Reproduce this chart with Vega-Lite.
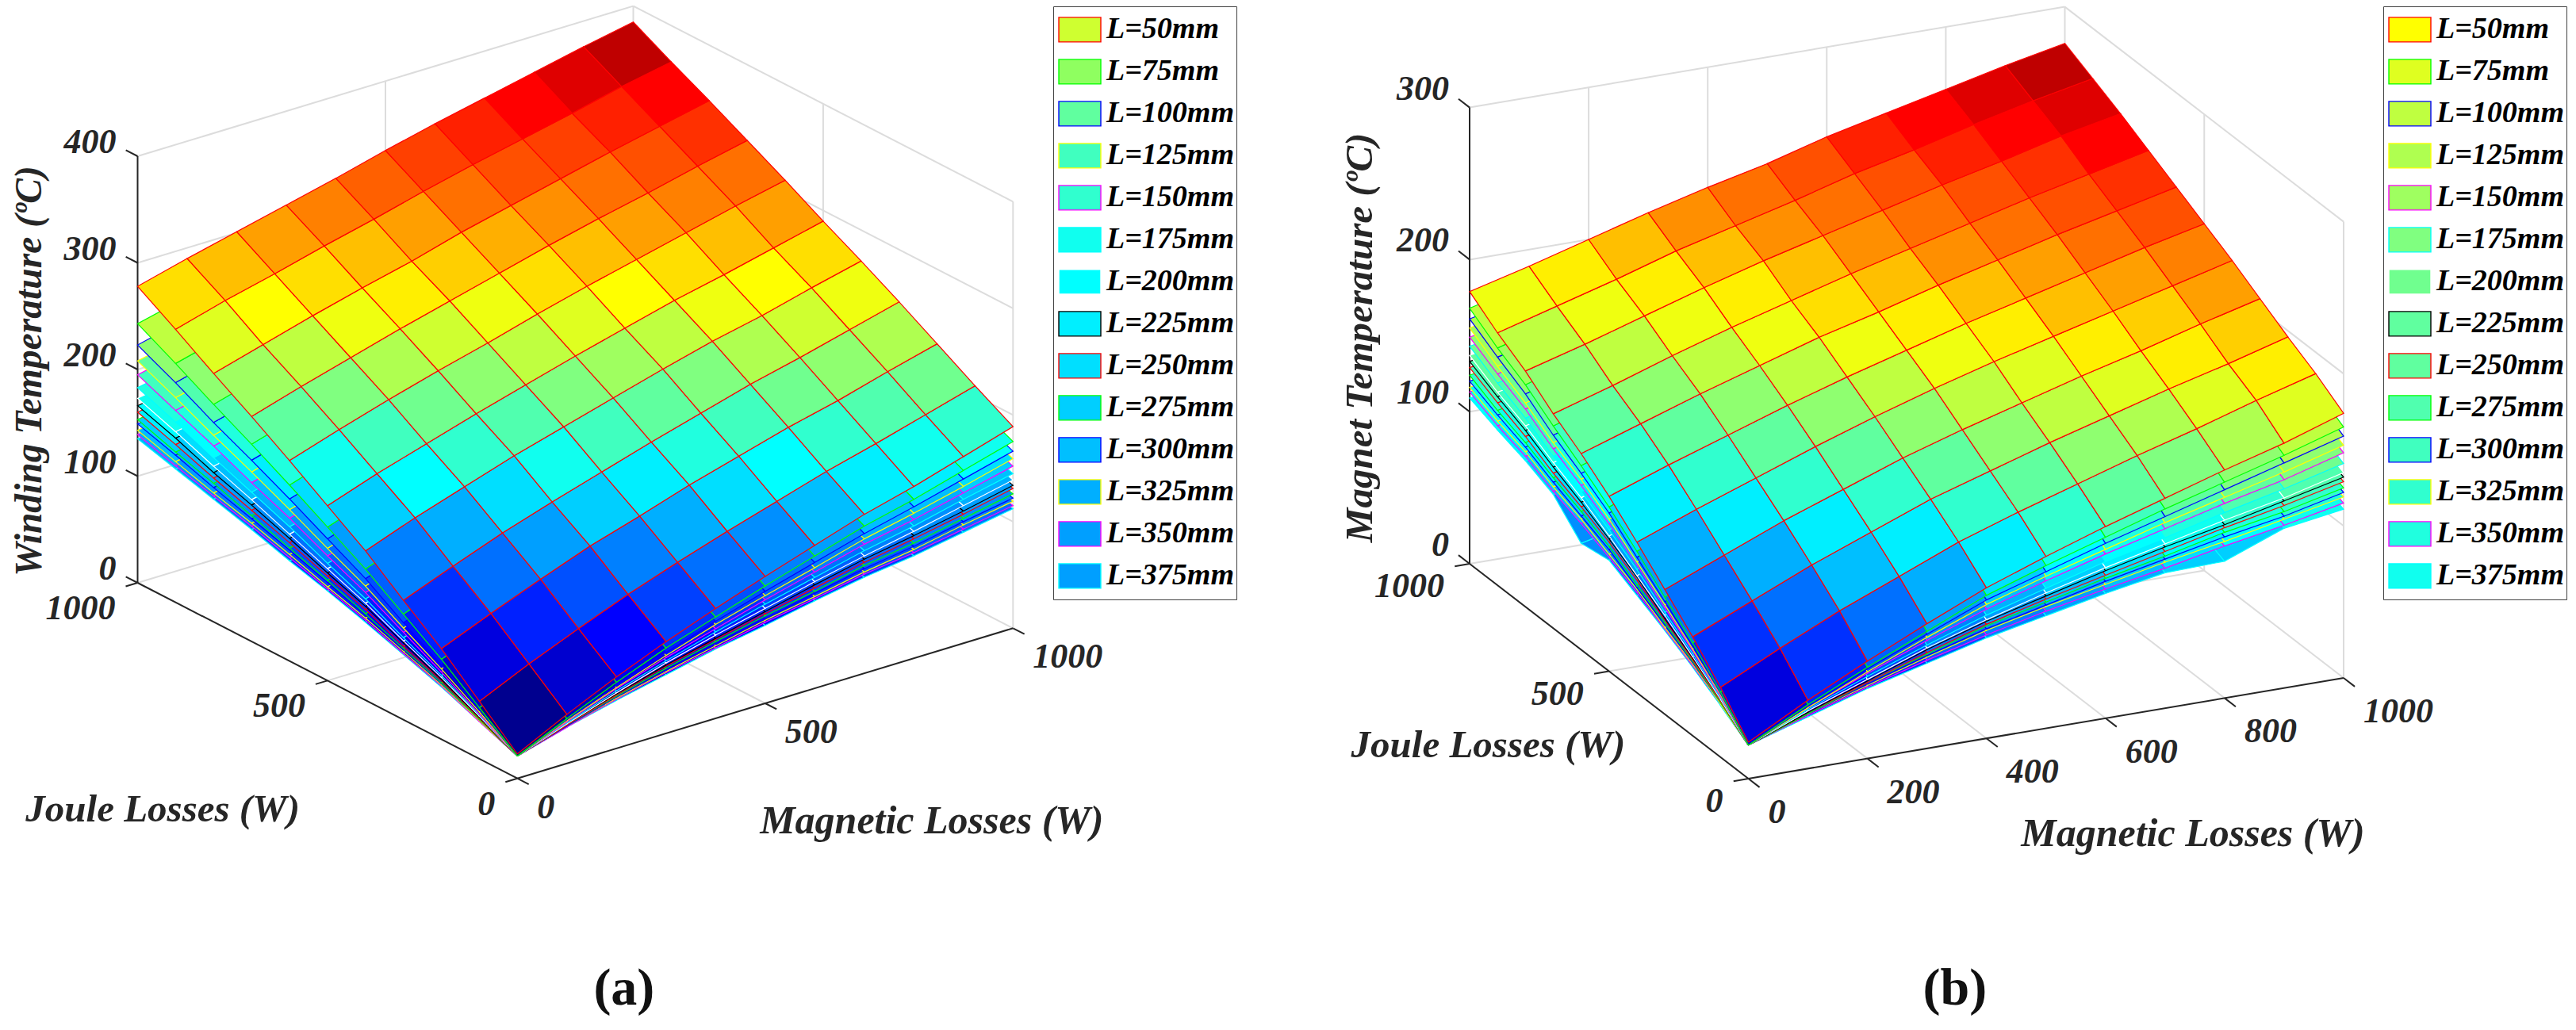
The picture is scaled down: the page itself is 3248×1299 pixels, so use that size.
{"$schema":"https://vega.github.io/schema/vega-lite/v6.json","background":"white","padding":0,"spacing":0,"config":{"view":{"stroke":null}},
"datasets":{
"fa":[
{"k":"g","m":0,"j":1000,"T":0,"m2":1000,"j2":1000,"T2":0},{"k":"g","m":0,"j":1000,"T":100,"m2":1000,"j2":1000,"T2":100},{"k":"g","m":0,"j":1000,"T":200,"m2":1000,"j2":1000,"T2":200},{"k":"g","m":0,"j":1000,"T":300,"m2":1000,"j2":1000,"T2":300},{"k":"g","m":0,"j":1000,"T":400,"m2":1000,"j2":1000,"T2":400},
{"k":"g","m":1000,"j":1000,"T":0,"m2":1000,"j2":0,"T2":0},{"k":"g","m":1000,"j":1000,"T":100,"m2":1000,"j2":0,"T2":100},{"k":"g","m":1000,"j":1000,"T":200,"m2":1000,"j2":0,"T2":200},{"k":"g","m":1000,"j":1000,"T":300,"m2":1000,"j2":0,"T2":300},{"k":"g","m":1000,"j":1000,"T":400,"m2":1000,"j2":0,"T2":400},
{"k":"g","m":1000,"j":1000,"T":0,"m2":1000,"j2":1000,"T2":400},{"k":"g","m":1000,"j":0,"T":0,"m2":1000,"j2":0,"T2":400},{"k":"g","m":500,"j":1000,"T":0,"m2":500,"j2":1000,"T2":400},{"k":"g","m":1000,"j":500,"T":0,"m2":1000,"j2":500,"T2":400},
{"k":"g","m":500,"j":0,"T":0,"m2":500,"j2":1000,"T2":0},{"k":"g","m":0,"j":500,"T":0,"m2":1000,"j2":500,"T2":0},
{"k":"a","m":0,"j":0,"T":0,"m2":0,"j2":1000,"T2":0},{"k":"a","m":0,"j":0,"T":0,"m2":1000,"j2":0,"T2":0},{"k":"a","m":0,"j":1000,"T":0,"m2":0,"j2":1000,"T2":400},
{"k":"a","m":0,"j":1000,"T":0,"m2":0,"j2":1031,"T2":0},{"k":"a","m":0,"j":1000,"T":100,"m2":0,"j2":1031,"T2":100},{"k":"a","m":0,"j":1000,"T":200,"m2":0,"j2":1031,"T2":200},{"k":"a","m":0,"j":1000,"T":300,"m2":0,"j2":1031,"T2":300},{"k":"a","m":0,"j":1000,"T":400,"m2":0,"j2":1031,"T2":400},
{"k":"a","m":0,"j":0,"T":0,"m2":-24,"j2":0,"T2":0},{"k":"a","m":0,"j":500,"T":0,"m2":-24,"j2":500,"T2":0},{"k":"a","m":0,"j":1000,"T":0,"m2":-24,"j2":1000,"T2":0},
{"k":"a","m":0,"j":0,"T":0,"m2":0,"j2":-30,"T2":0},{"k":"a","m":500,"j":0,"T":0,"m2":500,"j2":-30,"T2":0},{"k":"a","m":1000,"j":0,"T":0,"m2":1000,"j2":-30,"T2":0},
{"k":"lT","m":0,"j":1000,"T":0,"t":"0"},{"k":"lT","m":0,"j":1000,"T":100,"t":"100"},{"k":"lT","m":0,"j":1000,"T":200,"t":"200"},{"k":"lT","m":0,"j":1000,"T":300,"t":"300"},{"k":"lT","m":0,"j":1000,"T":400,"t":"400"},
{"k":"lj","m":0,"j":0,"T":0,"t":"0"},{"k":"lj","m":0,"j":500,"T":0,"t":"500"},{"k":"lj","m":0,"j":1000,"T":0,"t":"1000"},
{"k":"lm","m":0,"j":0,"T":0,"t":"0"},{"k":"lm","m":500,"j":0,"T":0,"t":"500"},{"k":"lm","m":1000,"j":0,"T":0,"t":"1000"},
{"k":"t","m":0,"j":1283,"T":146.6,"t":"Winding Temperature (ºC)","a":270,"fs":47.5},{"k":"t","m":-527,"j":246,"T":0,"t":"Joule Losses (W)","a":0,"fs":49},{"k":"t","m":420,"j":-543,"T":0,"t":"Magnetic Losses (W)","a":0,"fs":50},
{"k":"c","m":-383,"j":-781,"T":0,"t":"(a)"}],
"fb":[
{"k":"g","m":0,"j":1000,"T":0,"m2":1000,"j2":1000,"T2":0},{"k":"g","m":0,"j":1000,"T":100,"m2":1000,"j2":1000,"T2":100},{"k":"g","m":0,"j":1000,"T":200,"m2":1000,"j2":1000,"T2":200},{"k":"g","m":0,"j":1000,"T":300,"m2":1000,"j2":1000,"T2":300},
{"k":"g","m":1000,"j":1000,"T":0,"m2":1000,"j2":0,"T2":0},{"k":"g","m":1000,"j":1000,"T":100,"m2":1000,"j2":0,"T2":100},{"k":"g","m":1000,"j":1000,"T":200,"m2":1000,"j2":0,"T2":200},{"k":"g","m":1000,"j":1000,"T":300,"m2":1000,"j2":0,"T2":300},
{"k":"g","m":1000,"j":1000,"T":0,"m2":1000,"j2":1000,"T2":300},{"k":"g","m":1000,"j":0,"T":0,"m2":1000,"j2":0,"T2":300},{"k":"g","m":1000,"j":500,"T":0,"m2":1000,"j2":500,"T2":300},
{"k":"g","m":200,"j":1000,"T":0,"m2":200,"j2":1000,"T2":300},{"k":"g","m":400,"j":1000,"T":0,"m2":400,"j2":1000,"T2":300},{"k":"g","m":600,"j":1000,"T":0,"m2":600,"j2":1000,"T2":300},{"k":"g","m":800,"j":1000,"T":0,"m2":800,"j2":1000,"T2":300},
{"k":"g","m":200,"j":0,"T":0,"m2":200,"j2":1000,"T2":0},{"k":"g","m":400,"j":0,"T":0,"m2":400,"j2":1000,"T2":0},{"k":"g","m":600,"j":0,"T":0,"m2":600,"j2":1000,"T2":0},{"k":"g","m":800,"j":0,"T":0,"m2":800,"j2":1000,"T2":0},{"k":"g","m":0,"j":500,"T":0,"m2":1000,"j2":500,"T2":0},
{"k":"a","m":0,"j":0,"T":0,"m2":0,"j2":1000,"T2":0},{"k":"a","m":0,"j":0,"T":0,"m2":1000,"j2":0,"T2":0},{"k":"a","m":0,"j":1000,"T":0,"m2":0,"j2":1000,"T2":300},
{"k":"a","m":0,"j":1000,"T":0,"m2":0,"j2":1040,"T2":0},{"k":"a","m":0,"j":1000,"T":100,"m2":0,"j2":1040,"T2":100},{"k":"a","m":0,"j":1000,"T":200,"m2":0,"j2":1040,"T2":200},{"k":"a","m":0,"j":1000,"T":300,"m2":0,"j2":1040,"T2":300},
{"k":"a","m":0,"j":0,"T":0,"m2":-25,"j2":0,"T2":0},{"k":"a","m":0,"j":500,"T":0,"m2":-25,"j2":500,"T2":0},{"k":"a","m":0,"j":1000,"T":0,"m2":-25,"j2":1000,"T2":0},
{"k":"a","m":0,"j":0,"T":0,"m2":0,"j2":-40,"T2":0},{"k":"a","m":200,"j":0,"T":0,"m2":200,"j2":-40,"T2":0},{"k":"a","m":400,"j":0,"T":0,"m2":400,"j2":-40,"T2":0},{"k":"a","m":600,"j":0,"T":0,"m2":600,"j2":-40,"T2":0},{"k":"a","m":800,"j":0,"T":0,"m2":800,"j2":-40,"T2":0},{"k":"a","m":1000,"j":0,"T":0,"m2":1000,"j2":-40,"T2":0},
{"k":"lT","m":0,"j":1000,"T":0,"t":"0"},{"k":"lT","m":0,"j":1000,"T":100,"t":"100"},{"k":"lT","m":0,"j":1000,"T":200,"t":"200"},{"k":"lT","m":0,"j":1000,"T":300,"t":"300"},
{"k":"lj","m":0,"j":0,"T":0,"t":"0"},{"k":"lj","m":0,"j":500,"T":0,"t":"500"},{"k":"lj","m":0,"j":1000,"T":0,"t":"1000"},
{"k":"lm","m":0,"j":0,"T":0,"t":"0"},{"k":"lm","m":200,"j":0,"T":0,"t":"200"},{"k":"lm","m":400,"j":0,"T":0,"t":"400"},{"k":"lm","m":600,"j":0,"T":0,"t":"600"},{"k":"lm","m":800,"j":0,"T":0,"t":"800"},{"k":"lm","m":1000,"j":0,"T":0,"t":"1000"},
{"k":"t","m":0,"j":1393,"T":93.1,"t":"Magnet Temperature (ºC)","a":270,"fs":49},{"k":"t","m":-299,"j":295,"T":0,"t":"Joule Losses (W)","a":0,"fs":49},{"k":"t","m":513,"j":-499,"T":0,"t":"Magnetic Losses (W)","a":0,"fs":50},
{"k":"c","m":-91,"j":-935,"T":0,"t":"(b)"}],
"sa":[
{"L":"L=375mm","d":"m","w0":0,"w1":100,"T0":[21,34,45,55,65,73,82,90,96,104,112],"T1":[35,47,58,67,77,85,93,100,106,113,121]},
{"L":"L=375mm","d":"j","w0":0,"w1":100,"T0":[21,35,49,61,73,84,94,105,115,125,135],"T1":[34,47,60,72,83,94,103,113,123,132,142]},
{"L":"L=350mm","d":"m","w0":0,"w1":100,"T0":[21,34,46,57,66,76,84,93,99,107,115],"T1":[35,48,59,70,78,87,95,104,109,117,124]},
{"L":"L=350mm","d":"j","w0":0,"w1":100,"T0":[21,35,50,62,75,86,97,108,118,128,139],"T1":[34,48,62,73,86,96,106,117,126,135,146]},
{"L":"L=325mm","d":"m","w0":0,"w1":100,"T0":[21,35,47,58,68,78,86,95,102,111,119],"T1":[36,49,61,71,81,90,98,106,113,121,128]},
{"L":"L=325mm","d":"j","w0":0,"w1":100,"T0":[21,36,51,64,77,88,100,111,121,132,143],"T1":[35,49,63,76,88,98,110,120,129,140,150]},
{"L":"L=300mm","d":"m","w0":0,"w1":100,"T0":[21,35,48,59,70,79,89,98,105,114,122],"T1":[37,50,62,73,83,92,101,110,116,124,132]},
{"L":"L=300mm","d":"j","w0":0,"w1":100,"T0":[21,37,52,66,80,92,104,115,126,138,149],"T1":[35,50,65,78,91,103,114,124,135,146,156]},
{"L":"L=275mm","d":"m","w0":0,"w1":100,"T0":[21,36,49,61,72,82,91,101,108,117,126],"T1":[37,51,64,75,86,95,104,113,120,128,136]},
{"L":"L=275mm","d":"j","w0":0,"w1":100,"T0":[21,37,53,67,81,94,106,118,130,141,153],"T1":[36,51,66,80,93,105,116,128,139,149,161]},
{"L":"L=250mm","d":"m","w0":0,"w1":100,"T0":[21,36,50,63,74,84,94,104,112,121,131],"T1":[38,52,66,78,88,98,107,117,124,133,142]},
{"L":"L=250mm","d":"j","w0":0,"w1":100,"T0":[21,38,55,69,85,98,111,123,135,148,160],"T1":[36,53,69,82,97,110,122,133,144,157,168]},
{"L":"L=225mm","d":"m","w0":0,"w1":100,"T0":[21,37,51,64,75,86,97,107,115,124,134],"T1":[39,54,67,80,90,101,111,120,128,136,145]},
{"L":"L=225mm","d":"j","w0":0,"w1":100,"T0":[21,39,56,72,88,101,115,128,140,154,166],"T1":[37,54,70,85,101,113,126,138,150,163,174]},
{"L":"L=200mm","d":"m","w0":0,"w1":100,"T0":[21,37,52,66,78,89,100,110,119,129,139],"T1":[40,55,69,82,94,104,115,124,132,142,151]},
{"L":"L=200mm","d":"j","w0":0,"w1":100,"T0":[21,40,58,74,91,105,119,133,146,160,173],"T1":[37,55,73,88,104,117,131,144,156,169,181]},
{"L":"L=175mm","d":"m","w0":0,"w1":100,"T0":[21,38,54,68,81,93,104,115,124,135,145],"T1":[41,57,72,86,98,109,120,130,138,148,158]},
{"L":"L=175mm","d":"j","w0":0,"w1":100,"T0":[21,41,60,77,95,110,126,140,154,169,183],"T1":[38,57,76,92,109,123,138,152,165,179,192]},
{"L":"L=150mm","d":"m","w0":0,"w1":100,"T0":[21,39,56,71,84,97,109,121,130,141,152],"T1":[42,60,76,90,102,114,126,137,145,156,166]},
{"L":"L=150mm","d":"j","w0":0,"w1":100,"T0":[21,42,63,82,101,117,134,149,165,180,195],"T1":[39,59,80,98,116,131,147,161,176,190,205]},
{"L":"L=125mm","d":"m","w0":0,"w1":100,"T0":[21,40,57,73,88,101,113,126,136,147,159],"T1":[44,62,78,93,107,120,131,143,152,163,174]},
{"L":"L=125mm","d":"j","w0":0,"w1":100,"T0":[21,44,66,86,107,124,142,159,175,192,208],"T1":[40,62,83,102,123,139,156,172,187,203,218]},
{"L":"L=100mm","d":"m","w0":0,"w1":100,"T0":[21,41,59,76,91,105,118,131,142,154,166],"T1":[46,65,82,98,112,125,137,150,160,171,182]},
{"L":"L=100mm","d":"j","w0":0,"w1":100,"T0":[21,46,70,91,114,133,152,170,187,206,223],"T1":[41,65,88,108,130,148,166,183,199,218,234]},
{"L":"L=75mm","d":"m","w0":0,"w1":100,"T0":[21,42,62,80,95,110,124,138,149,162,175],"T1":[48,68,87,104,118,132,145,158,168,180,192]},
{"L":"L=75mm","d":"j","w0":0,"w1":100,"T0":[21,48,75,99,123,144,165,185,204,224,243],"T1":[42,68,94,117,140,160,180,199,217,236,254]},
{"L":"L=50mm","d":"m","w0":0,"w1":100,"T0":[23,46,67,86,103,119,134,149,161,175,189],"T1":[54,75,94,112,128,143,157,171,183,196,209]},
{"L":"L=50mm","d":"m","w0":100,"w1":200,"T0":[54,75,94,112,128,143,157,171,183,196,209],"T1":[85,104,122,139,153,168,181,194,205,218,230]},
{"L":"L=50mm","d":"m","w0":200,"w1":300,"T0":[85,104,122,139,153,168,181,194,205,218,230],"T1":[112,130,147,162,176,190,203,216,227,239,251]},
{"L":"L=50mm","d":"m","w0":300,"w1":400,"T0":[112,130,147,162,176,190,203,216,227,239,251],"T1":[140,157,172,187,200,213,226,238,248,260,271]},
{"L":"L=50mm","d":"m","w0":400,"w1":500,"T0":[140,157,172,187,200,213,226,238,248,260,271],"T1":[164,180,194,208,221,234,246,258,268,279,290]},
{"L":"L=50mm","d":"m","w0":500,"w1":600,"T0":[164,180,194,208,221,234,246,258,268,279,290],"T1":[188,203,217,230,242,255,267,278,289,300,310]},
{"L":"L=50mm","d":"m","w0":600,"w1":700,"T0":[188,203,217,230,242,255,267,278,289,300,310],"T1":[211,225,238,251,263,275,287,298,308,319,329]},
{"L":"L=50mm","d":"m","w0":700,"w1":800,"T0":[211,225,238,251,263,275,287,298,308,319,329],"T1":[233,246,259,271,282,295,306,317,328,338,348]},
{"L":"L=50mm","d":"m","w0":800,"w1":900,"T0":[233,246,259,271,282,295,306,317,328,338,348],"T1":[256,269,280,292,303,315,326,336,346,357,366]},
{"L":"L=50mm","d":"m","w0":900,"w1":1000,"T0":[256,269,280,292,303,315,326,336,346,357,366],"T1":[278,290,301,312,323,335,346,356,366,376,385]}],
"sb":[
{"L":"L=375mm","d":"m","w0":0,"w1":100,"T0":[22,34,46,56,66,74,82,89,90,105,111],"T1":[34,46,57,67,76,84,91,98,98,112,118]},
{"L":"L=375mm","d":"j","w0":0,"w1":100,"T0":[22,34,45,55,64,73,70,88,96,102,109],"T1":[34,46,56,65,74,82,79,96,103,109,115]},
{"L":"L=350mm","d":"m","w0":0,"w1":100,"T0":[22,35,47,58,68,77,85,92,100,107,115],"T1":[35,47,59,69,79,87,94,101,108,115,122]},
{"L":"L=350mm","d":"j","w0":0,"w1":100,"T0":[22,35,46,56,66,75,83,90,99,105,113],"T1":[35,47,58,67,76,85,92,98,107,112,119]},
{"L":"L=325mm","d":"m","w0":0,"w1":100,"T0":[22,36,48,60,71,80,88,96,103,111,119],"T1":[35,49,60,72,82,90,98,105,112,119,126]},
{"L":"L=325mm","d":"j","w0":0,"w1":100,"T0":[22,35,47,57,68,77,86,93,102,108,116],"T1":[36,48,59,69,79,87,95,102,110,115,123]},
{"L":"L=300mm","d":"m","w0":0,"w1":100,"T0":[22,36,49,61,72,81,90,98,106,113,122],"T1":[36,49,62,73,83,92,100,108,115,121,130]},
{"L":"L=300mm","d":"j","w0":0,"w1":100,"T0":[22,36,48,59,69,80,88,96,105,112,120],"T1":[36,49,60,71,80,90,98,105,113,119,127]},
{"L":"L=275mm","d":"m","w0":0,"w1":100,"T0":[22,36,50,62,74,83,92,100,109,116,125],"T1":[36,50,63,74,86,94,103,110,118,125,133]},
{"L":"L=275mm","d":"j","w0":0,"w1":100,"T0":[22,36,49,60,71,82,91,99,108,115,124],"T1":[36,50,62,72,82,93,101,108,116,123,131]},
{"L":"L=250mm","d":"m","w0":0,"w1":100,"T0":[22,37,50,63,75,85,94,103,112,120,129],"T1":[37,51,64,76,87,97,105,113,122,129,137]},
{"L":"L=250mm","d":"j","w0":0,"w1":100,"T0":[22,37,50,62,74,85,94,102,112,120,129],"T1":[37,51,63,75,86,96,104,112,121,128,136]},
{"L":"L=225mm","d":"m","w0":0,"w1":100,"T0":[22,37,51,65,77,87,97,106,114,123,132],"T1":[38,52,65,79,90,99,109,117,124,132,141]},
{"L":"L=225mm","d":"j","w0":0,"w1":100,"T0":[22,38,51,63,76,87,97,106,116,124,133],"T1":[37,53,65,76,88,98,108,116,125,132,140]},
{"L":"L=200mm","d":"m","w0":0,"w1":100,"T0":[22,38,52,66,78,89,99,108,117,125,135],"T1":[38,54,67,80,91,102,111,119,127,135,144]},
{"L":"L=200mm","d":"j","w0":0,"w1":100,"T0":[22,38,52,65,77,89,100,109,119,127,137],"T1":[38,53,66,78,90,101,111,119,128,135,145]},
{"L":"L=175mm","d":"m","w0":0,"w1":100,"T0":[22,39,54,68,81,92,103,112,122,131,141],"T1":[39,55,70,83,95,105,116,124,133,141,150]},
{"L":"L=175mm","d":"j","w0":0,"w1":100,"T0":[22,39,54,67,81,93,104,113,124,133,143],"T1":[39,55,69,81,94,105,115,124,134,142,151]},
{"L":"L=150mm","d":"m","w0":0,"w1":100,"T0":[22,40,56,71,85,97,108,118,128,137,148],"T1":[40,57,73,87,100,111,121,130,140,148,158]},
{"L":"L=150mm","d":"j","w0":0,"w1":100,"T0":[22,40,56,70,84,97,108,118,130,139,149],"T1":[40,57,72,85,98,110,120,129,140,148,157]},
{"L":"L=125mm","d":"m","w0":0,"w1":100,"T0":[22,40,57,73,88,100,111,122,132,142,153],"T1":[41,58,74,89,104,115,125,135,144,153,163]},
{"L":"L=125mm","d":"j","w0":0,"w1":100,"T0":[22,41,57,72,86,100,112,122,134,144,155],"T1":[40,58,73,87,100,113,125,134,145,154,164]},
{"L":"L=100mm","d":"m","w0":0,"w1":100,"T0":[22,41,59,75,91,103,115,126,137,148,159],"T1":[42,60,77,92,107,118,130,140,150,160,170]},
{"L":"L=100mm","d":"j","w0":0,"w1":100,"T0":[22,42,59,74,89,104,116,127,140,150,161],"T1":[41,60,76,90,104,118,129,139,151,160,170]},
{"L":"L=75mm","d":"m","w0":0,"w1":100,"T0":[22,42,60,77,94,107,119,131,142,153,165],"T1":[43,62,79,95,111,123,134,145,155,165,176]},
{"L":"L=75mm","d":"j","w0":0,"w1":100,"T0":[22,43,61,77,93,108,121,133,146,156,168],"T1":[42,62,79,94,109,123,135,146,158,167,178]},
{"L":"L=50mm","d":"m","w0":0,"w1":100,"T0":[24,45,64,82,99,113,126,138,150,161,174],"T1":[46,65,83,99,115,128,140,152,163,175,186]},
{"L":"L=50mm","d":"m","w0":100,"w1":200,"T0":[46,65,83,99,115,128,140,152,163,175,186],"T1":[65,82,99,114,129,141,153,164,175,185,196]},
{"L":"L=50mm","d":"m","w0":200,"w1":300,"T0":[65,82,99,114,129,141,153,164,175,185,196],"T1":[82,98,114,128,142,154,165,176,186,197,207]},
{"L":"L=50mm","d":"m","w0":300,"w1":400,"T0":[82,98,114,128,142,154,165,176,186,197,207],"T1":[99,114,128,142,155,167,178,188,198,208,218]},
{"L":"L=50mm","d":"m","w0":400,"w1":500,"T0":[99,114,128,142,155,167,178,188,198,208,218],"T1":[115,129,142,155,167,178,189,199,209,219,228]},
{"L":"L=50mm","d":"m","w0":500,"w1":600,"T0":[115,129,142,155,167,178,189,199,209,219,228],"T1":[129,142,155,167,179,189,200,210,220,229,238]},
{"L":"L=50mm","d":"m","w0":600,"w1":700,"T0":[129,142,155,167,179,189,200,210,220,229,238],"T1":[141,153,166,178,189,200,210,220,230,239,248]},
{"L":"L=50mm","d":"m","w0":700,"w1":800,"T0":[141,153,166,178,189,200,210,220,230,239,248],"T1":[155,166,178,190,201,211,221,231,240,250,258]},
{"L":"L=50mm","d":"m","w0":800,"w1":900,"T0":[155,166,178,190,201,211,221,231,240,250,258],"T1":[166,177,188,200,210,220,231,240,250,259,267]},
{"L":"L=50mm","d":"m","w0":900,"w1":1000,"T0":[166,177,188,200,210,220,231,240,250,259,267],"T1":[179,189,200,211,221,230,241,250,259,268,276]}]
},
"hconcat":[
{"width":1624,"height":1299,"data":{"name":"fa"},
"transform":[{"calculate":"652.3+0.625*datum.m-0.4788*datum.j","as":"sx"},{"calculate":"981.7-0.1894*datum.m-0.2467*datum.j-1.345*datum.T","as":"sy"},{"calculate":"652.3+0.625*datum.m2-0.4788*datum.j2","as":"sx2"},{"calculate":"981.7-0.1894*datum.m2-0.2467*datum.j2-1.345*datum.T2","as":"sy2"}],
"resolve":{"scale":{"fill":"independent","stroke":"independent"}},
"layer":[
{"transform":[{"filter":"datum.k=='g'"}],"mark":{"type":"rule","stroke":"#dcdcdc","strokeWidth":2},"encoding":{"x":{"field":"sx","type":"quantitative","scale":{"domain":[0,1624],"nice":false,"zero":false},"axis":null},"y":{"field":"sy","type":"quantitative","scale":{"domain":[1299,0],"nice":false,"zero":false},"axis":null},"x2":{"field":"sx2"},"y2":{"field":"sy2"}}},
{"transform":[{"filter":"datum.k=='a'"}],"mark":{"type":"rule","stroke":"#262626","strokeWidth":2},"encoding":{"x":{"field":"sx","type":"quantitative"},"y":{"field":"sy","type":"quantitative"},"x2":{"field":"sx2"},"y2":{"field":"sy2"}}},
{"transform":[{"filter":"datum.k=='lT'"}],"mark":{"type":"text","align":"right","baseline":"middle","dx":-27,"dy":-17,"font":"Liberation Serif","fontStyle":"italic","fontWeight":"bold","fontSize":44,"fill":"#262626"},"encoding":{"x":{"field":"sx","type":"quantitative"},"y":{"field":"sy","type":"quantitative"},"text":{"field":"t"}}},
{"transform":[{"filter":"datum.k=='lj'"}],"mark":{"type":"text","align":"right","baseline":"middle","dx":-28,"dy":33,"font":"Liberation Serif","fontStyle":"italic","fontWeight":"bold","fontSize":44,"fill":"#262626"},"encoding":{"x":{"field":"sx","type":"quantitative"},"y":{"field":"sy","type":"quantitative"},"text":{"field":"t"}}},
{"transform":[{"filter":"datum.k=='lm'"}],"mark":{"type":"text","align":"left","baseline":"middle","dx":25,"dy":37,"font":"Liberation Serif","fontStyle":"italic","fontWeight":"bold","fontSize":44,"fill":"#262626"},"encoding":{"x":{"field":"sx","type":"quantitative"},"y":{"field":"sy","type":"quantitative"},"text":{"field":"t"}}},
{"transform":[{"filter":"datum.k=='t'"}],"mark":{"type":"text","align":"center","baseline":"middle","font":"Liberation Serif","fontStyle":"italic","fontWeight":"bold","fill":"#262626"},"encoding":{"x":{"field":"sx","type":"quantitative"},"y":{"field":"sy","type":"quantitative"},"text":{"field":"t"},"angle":{"field":"a","type":"quantitative","scale":null},"size":{"field":"fs","type":"quantitative","scale":null}}},
{"transform":[{"filter":"datum.k=='c'"}],"mark":{"type":"text","align":"center","baseline":"middle","font":"Liberation Serif","fontWeight":"bold","fontSize":66,"fill":"#111111"},"encoding":{"x":{"field":"sx","type":"quantitative"},"y":{"field":"sy","type":"quantitative"},"text":{"field":"t"}}},
{"data":{"values":[{"n":"L=50mm"},{"n":"L=75mm"},{"n":"L=100mm"},{"n":"L=125mm"},{"n":"L=150mm"},{"n":"L=175mm"},{"n":"L=200mm"},{"n":"L=225mm"},{"n":"L=250mm"},{"n":"L=275mm"},{"n":"L=300mm"},{"n":"L=325mm"},{"n":"L=350mm"},{"n":"L=375mm"}]},"mark":{"type":"point","filled":true,"size":1,"opacity":0},
"encoding":{"fill":{"field":"n","type":"nominal","scale":{"domain":["L=50mm","L=75mm","L=100mm","L=125mm","L=150mm","L=175mm","L=200mm","L=225mm","L=250mm","L=275mm","L=300mm","L=325mm","L=350mm","L=375mm"],"range":["#CFFF30","#8FFF60","#60FF9F","#40FFBF","#30FFCF","#10FFEF","#00FFFF","#00EFFF","#00DFFF","#00CFFF","#00BFFF","#00AFFF","#009FFF","#009FFF"]},
"legend":{"title":null,"orient":"none","legendX":1328,"legendY":8,"padding":3,"fillColor":"white","strokeColor":"#404040","labelFont":"Liberation Serif","labelFontStyle":"italic","labelFontWeight":"bold","labelFontSize":38,"labelColor":"#000000","labelOffset":3,"labelLimit":400,"symbolType":"M-0.898,-0.525H0.898V0.525H-0.898Z","symbolSize":3481,"symbolStrokeWidth":1.4,"symbolOpacity":1,"clipHeight":52.8,"rowPadding":0}},
"stroke":{"field":"n","type":"nominal","scale":{"domain":["L=50mm","L=75mm","L=100mm","L=125mm","L=150mm","L=175mm","L=200mm","L=225mm","L=250mm","L=275mm","L=300mm","L=325mm","L=350mm","L=375mm"],"range":["#ff0000","#00ff00","#0000ff","#ffff00","#ff00ff","#00ffff","#ffffff","#000000","#ff0000","#00ff00","#0000ff","#ffff00","#ff00ff","#00ffff"]},
"legend":{"title":null,"orient":"none","legendX":1328,"legendY":8,"padding":3,"fillColor":"white","strokeColor":"#404040","labelFont":"Liberation Serif","labelFontStyle":"italic","labelFontWeight":"bold","labelFontSize":38,"labelColor":"#000000","labelOffset":3,"labelLimit":400,"symbolType":"M-0.898,-0.525H0.898V0.525H-0.898Z","symbolSize":3481,"symbolStrokeWidth":1.4,"symbolOpacity":1,"clipHeight":52.8,"rowPadding":0}}}},
{"data":{"name":"sa"},"transform":[{"calculate":"[0,1,2,3,4,5,6,7,8,9]","as":"k"},{"flatten":["k"]},{"calculate":"[0,1,2,3,4]","as":"v"},{"flatten":["v"]},{"calculate":"datum.k+((datum.v==1||datum.v==2)?1:0)","as":"u"},{"calculate":"(datum.v==2||datum.v==3)?1:0","as":"w"},{"calculate":"(datum.w?datum.T1:datum.T0)[datum.u]","as":"Tv"},{"calculate":"datum.T0[datum.k]","as":"Tc"},{"calculate":"datum.d=='m'?datum.u*100:(datum.w?datum.w1:datum.w0)","as":"m"},{"calculate":"datum.d=='m'?(datum.w?datum.w1:datum.w0):datum.u*100","as":"j"},{"calculate":"652.3+0.625*datum.m-0.4788*datum.j","as":"sx"},{"calculate":"981.7-0.1894*datum.m-0.2467*datum.j-1.345*datum.Tv","as":"sy"},{"calculate":"datum.L+datum.d+datum.w0+'_'+datum.k","as":"id"}],
"mark":{"type":"line","strokeWidth":1.2},
"encoding":{"x":{"field":"sx","type":"quantitative"},"y":{"field":"sy","type":"quantitative"},"order":{"field":"v","type":"quantitative"},"detail":{"field":"id"},
"fill":{"field":"Tc","type":"quantitative","legend":null,"scale":{"type":"quantize","domain":[23,385],"range":["#00008F","#00009F","#0000AF","#0000BF","#0000CF","#0000DF","#0000EF","#0000FF","#0010FF","#0020FF","#0030FF","#0040FF","#0050FF","#0060FF","#0070FF","#0080FF","#008FFF","#009FFF","#00AFFF","#00BFFF","#00CFFF","#00DFFF","#00EFFF","#00FFFF","#10FFEF","#20FFDF","#30FFCF","#40FFBF","#50FFAF","#60FF9F","#70FF8F","#80FF80","#8FFF70","#9FFF60","#AFFF50","#BFFF40","#CFFF30","#DFFF20","#EFFF10","#FFFF00","#FFEF00","#FFDF00","#FFCF00","#FFBF00","#FFAF00","#FF9F00","#FF8F00","#FF8000","#FF7000","#FF6000","#FF5000","#FF4000","#FF3000","#FF2000","#FF1000","#FF0000","#EF0000","#DF0000","#CF0000","#BF0000","#AF0000","#9F0000","#8F0000","#800000"]}},
"stroke":{"field":"L","type":"nominal","legend":null,"scale":{"domain":["L=50mm","L=75mm","L=100mm","L=125mm","L=150mm","L=175mm","L=200mm","L=225mm","L=250mm","L=275mm","L=300mm","L=325mm","L=350mm","L=375mm"],"range":["#ff0000","#00ff00","#0000ff","#ffff00","#ff00ff","#00ffff","#ffffff","#000000","#ff0000","#00ff00","#0000ff","#ffff00","#ff00ff","#00ffff"]}}}}
]},
{"width":1624,"height":1299,"data":{"name":"fb"},
"transform":[{"calculate":"2204.5+0.7505*datum.m-0.3515*datum.j","as":"sx"},{"calculate":"982-0.127*datum.m-0.271*datum.j-1.918*datum.T","as":"sy"},{"calculate":"2204.5+0.7505*datum.m2-0.3515*datum.j2","as":"sx2"},{"calculate":"982-0.127*datum.m2-0.271*datum.j2-1.918*datum.T2","as":"sy2"}],
"resolve":{"scale":{"fill":"independent","stroke":"independent"}},
"layer":[
{"transform":[{"filter":"datum.k=='g'"}],"mark":{"type":"rule","stroke":"#dcdcdc","strokeWidth":2},"encoding":{"x":{"field":"sx","type":"quantitative","scale":{"domain":[1624,3248],"nice":false,"zero":false},"axis":null},"y":{"field":"sy","type":"quantitative","scale":{"domain":[1299,0],"nice":false,"zero":false},"axis":null},"x2":{"field":"sx2"},"y2":{"field":"sy2"}}},
{"transform":[{"filter":"datum.k=='a'"}],"mark":{"type":"rule","stroke":"#262626","strokeWidth":2},"encoding":{"x":{"field":"sx","type":"quantitative"},"y":{"field":"sy","type":"quantitative"},"x2":{"field":"sx2"},"y2":{"field":"sy2"}}},
{"transform":[{"filter":"datum.k=='lT'"}],"mark":{"type":"text","align":"right","baseline":"middle","dx":-26,"dy":-23,"font":"Liberation Serif","fontStyle":"italic","fontWeight":"bold","fontSize":44,"fill":"#262626"},"encoding":{"x":{"field":"sx","type":"quantitative"},"y":{"field":"sy","type":"quantitative"},"text":{"field":"t"}}},
{"transform":[{"filter":"datum.k=='lj'"}],"mark":{"type":"text","align":"right","baseline":"middle","dx":-32,"dy":29,"font":"Liberation Serif","fontStyle":"italic","fontWeight":"bold","fontSize":44,"fill":"#262626"},"encoding":{"x":{"field":"sx","type":"quantitative"},"y":{"field":"sy","type":"quantitative"},"text":{"field":"t"}}},
{"transform":[{"filter":"datum.k=='lm'"}],"mark":{"type":"text","align":"left","baseline":"middle","dx":25,"dy":43,"font":"Liberation Serif","fontStyle":"italic","fontWeight":"bold","fontSize":44,"fill":"#262626"},"encoding":{"x":{"field":"sx","type":"quantitative"},"y":{"field":"sy","type":"quantitative"},"text":{"field":"t"}}},
{"transform":[{"filter":"datum.k=='t'"}],"mark":{"type":"text","align":"center","baseline":"middle","font":"Liberation Serif","fontStyle":"italic","fontWeight":"bold","fill":"#262626"},"encoding":{"x":{"field":"sx","type":"quantitative"},"y":{"field":"sy","type":"quantitative"},"text":{"field":"t"},"angle":{"field":"a","type":"quantitative","scale":null},"size":{"field":"fs","type":"quantitative","scale":null}}},
{"transform":[{"filter":"datum.k=='c'"}],"mark":{"type":"text","align":"center","baseline":"middle","font":"Liberation Serif","fontWeight":"bold","fontSize":66,"fill":"#111111"},"encoding":{"x":{"field":"sx","type":"quantitative"},"y":{"field":"sy","type":"quantitative"},"text":{"field":"t"}}},
{"data":{"values":[{"n":"L=50mm"},{"n":"L=75mm"},{"n":"L=100mm"},{"n":"L=125mm"},{"n":"L=150mm"},{"n":"L=175mm"},{"n":"L=200mm"},{"n":"L=225mm"},{"n":"L=250mm"},{"n":"L=275mm"},{"n":"L=300mm"},{"n":"L=325mm"},{"n":"L=350mm"},{"n":"L=375mm"}]},"mark":{"type":"point","filled":true,"size":1,"opacity":0},
"encoding":{"fill":{"field":"n","type":"nominal","scale":{"domain":["L=50mm","L=75mm","L=100mm","L=125mm","L=150mm","L=175mm","L=200mm","L=225mm","L=250mm","L=275mm","L=300mm","L=325mm","L=350mm","L=375mm"],"range":["#FFFF00","#DFFF20","#BFFF40","#AFFF50","#9FFF60","#80FF80","#70FF8F","#60FF9F","#60FF9F","#50FFAF","#40FFBF","#30FFCF","#20FFDF","#10FFEF"]},
"legend":{"title":null,"orient":"none","legendX":1381,"legendY":8,"padding":3,"fillColor":"white","strokeColor":"#404040","labelFont":"Liberation Serif","labelFontStyle":"italic","labelFontWeight":"bold","labelFontSize":38,"labelColor":"#000000","labelOffset":3,"labelLimit":400,"symbolType":"M-0.898,-0.525H0.898V0.525H-0.898Z","symbolSize":3481,"symbolStrokeWidth":1.4,"symbolOpacity":1,"clipHeight":52.8,"rowPadding":0}},
"stroke":{"field":"n","type":"nominal","scale":{"domain":["L=50mm","L=75mm","L=100mm","L=125mm","L=150mm","L=175mm","L=200mm","L=225mm","L=250mm","L=275mm","L=300mm","L=325mm","L=350mm","L=375mm"],"range":["#ff0000","#00ff00","#0000ff","#ffff00","#ff00ff","#00ffff","#ffffff","#000000","#ff0000","#00ff00","#0000ff","#ffff00","#ff00ff","#00ffff"]},
"legend":{"title":null,"orient":"none","legendX":1381,"legendY":8,"padding":3,"fillColor":"white","strokeColor":"#404040","labelFont":"Liberation Serif","labelFontStyle":"italic","labelFontWeight":"bold","labelFontSize":38,"labelColor":"#000000","labelOffset":3,"labelLimit":400,"symbolType":"M-0.898,-0.525H0.898V0.525H-0.898Z","symbolSize":3481,"symbolStrokeWidth":1.4,"symbolOpacity":1,"clipHeight":52.8,"rowPadding":0}}}},
{"data":{"name":"sb"},"transform":[{"calculate":"[0,1,2,3,4,5,6,7,8,9]","as":"k"},{"flatten":["k"]},{"calculate":"[0,1,2,3,4]","as":"v"},{"flatten":["v"]},{"calculate":"datum.k+((datum.v==1||datum.v==2)?1:0)","as":"u"},{"calculate":"(datum.v==2||datum.v==3)?1:0","as":"w"},{"calculate":"(datum.w?datum.T1:datum.T0)[datum.u]","as":"Tv"},{"calculate":"datum.T0[datum.k]","as":"Tc"},{"calculate":"datum.d=='m'?datum.u*100:(datum.w?datum.w1:datum.w0)","as":"m"},{"calculate":"datum.d=='m'?(datum.w?datum.w1:datum.w0):datum.u*100","as":"j"},{"calculate":"2204.5+0.7505*datum.m-0.3515*datum.j","as":"sx"},{"calculate":"982-0.127*datum.m-0.271*datum.j-1.918*datum.Tv","as":"sy"},{"calculate":"datum.L+datum.d+datum.w0+'_'+datum.k","as":"id"}],
"mark":{"type":"line","strokeWidth":1.2},
"encoding":{"x":{"field":"sx","type":"quantitative"},"y":{"field":"sy","type":"quantitative"},"order":{"field":"v","type":"quantitative"},"detail":{"field":"id"},
"fill":{"field":"Tc","type":"quantitative","legend":null,"scale":{"type":"quantize","domain":[0,278],"range":["#00008F","#00009F","#0000AF","#0000BF","#0000CF","#0000DF","#0000EF","#0000FF","#0010FF","#0020FF","#0030FF","#0040FF","#0050FF","#0060FF","#0070FF","#0080FF","#008FFF","#009FFF","#00AFFF","#00BFFF","#00CFFF","#00DFFF","#00EFFF","#00FFFF","#10FFEF","#20FFDF","#30FFCF","#40FFBF","#50FFAF","#60FF9F","#70FF8F","#80FF80","#8FFF70","#9FFF60","#AFFF50","#BFFF40","#CFFF30","#DFFF20","#EFFF10","#FFFF00","#FFEF00","#FFDF00","#FFCF00","#FFBF00","#FFAF00","#FF9F00","#FF8F00","#FF8000","#FF7000","#FF6000","#FF5000","#FF4000","#FF3000","#FF2000","#FF1000","#FF0000","#EF0000","#DF0000","#CF0000","#BF0000","#AF0000","#9F0000","#8F0000","#800000"]}},
"stroke":{"field":"L","type":"nominal","legend":null,"scale":{"domain":["L=50mm","L=75mm","L=100mm","L=125mm","L=150mm","L=175mm","L=200mm","L=225mm","L=250mm","L=275mm","L=300mm","L=325mm","L=350mm","L=375mm"],"range":["#ff0000","#00ff00","#0000ff","#ffff00","#ff00ff","#00ffff","#ffffff","#000000","#ff0000","#00ff00","#0000ff","#ffff00","#ff00ff","#00ffff"]}}}}
]}
]}
